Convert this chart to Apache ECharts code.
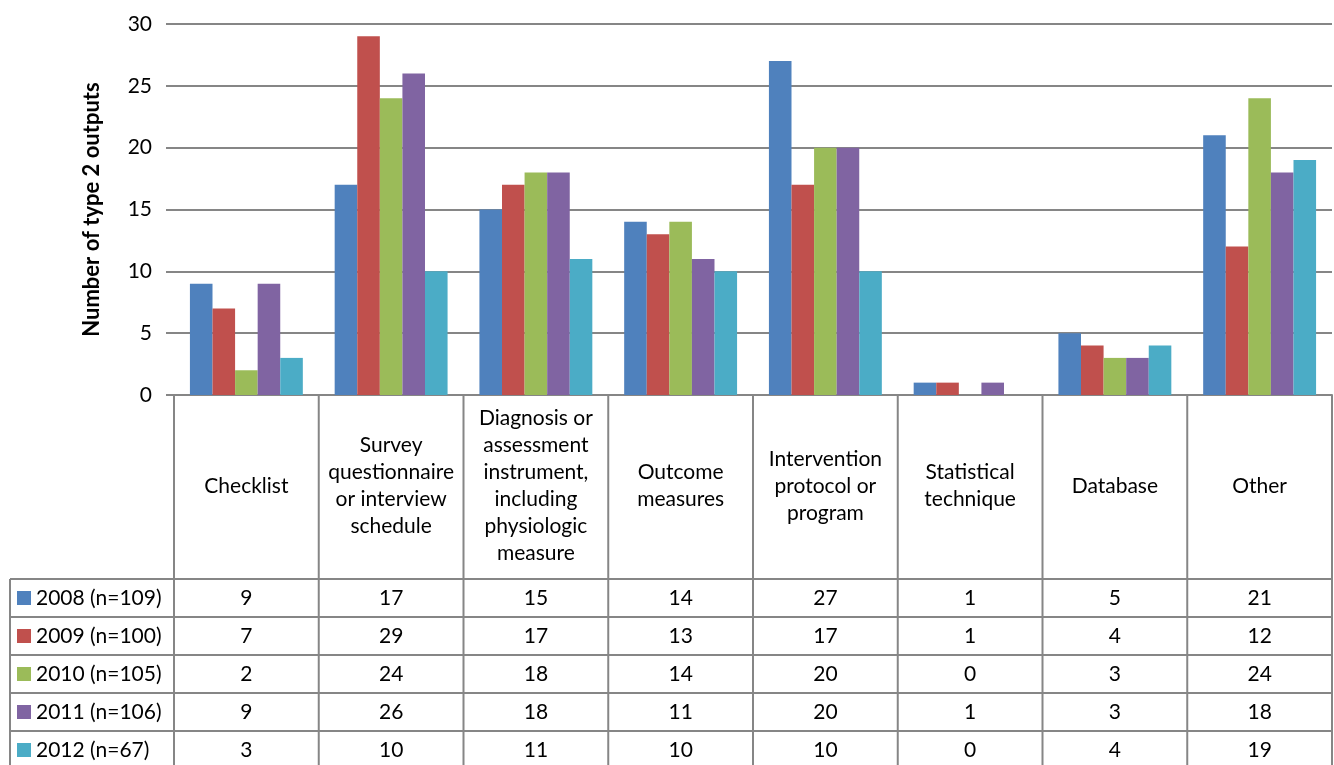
<!DOCTYPE html>
<html>
<head>
<meta charset="utf-8">
<script src="https://cdn.jsdelivr.net/npm/echarts@6/dist/echarts.min.js"></script>
<style>
html,body{margin:0;padding:0;background:#fff;}
#main{width:1334px;height:765px;}
</style>
</head>
<body>
<div id="main"></div>
<script>
const categories = [
  'Checklist',
  'Survey\nquestionnaire\nor interview\nschedule',
  'Diagnosis or\nassessment\ninstrument,\nincluding\nphysiologic\nmeasure',
  'Outcome\nmeasures',
  'Intervention\nprotocol or\nprogram',
  'Statistical\ntechnique',
  'Database',
  'Other'
];
const seriesNames = ['2008 (n=109)', '2009 (n=100)', '2010 (n=105)', '2011 (n=106)', '2012 (n=67)'];
const values2008 = [9, 17, 15, 14, 27, 1, 5, 21];
const values2009 = [7, 29, 17, 13, 17, 1, 4, 12];
const values2010 = [2, 24, 18, 14, 20, 0, 3, 24];
const values2011 = [9, 26, 18, 11, 20, 1, 3, 18];
const values2012 = [3, 10, 11, 10, 10, 0, 4, 19];
const yTicks = { min: 0, max: 30, interval: 5 };
const colors = ['#4F81BD', '#C0504D', '#9BBB59', '#8064A2', '#4BACC6'];

const allValues = [values2008, values2009, values2010, values2011, values2012];
const FONT = 'Lato, "Open Sans", sans-serif';
const LINE = '#868686';

const grid = { left: 174, right: 2, top: 24, height: 371 };
const tableLeft = 10;
const headerBottom = 579;
const rowH = 38;
const fontSize = 21;

const chart = echarts.init(document.getElementById('main'));
chart.setOption({
  animation: false,
  backgroundColor: '#fff',
  grid: grid,
  xAxis: {
    type: 'category',
    data: categories,
    axisLine: { show: true, lineStyle: { color: LINE, width: 2 } },
    axisTick: { show: false },
    axisLabel: { show: false },
    splitLine: { show: false }
  },
  yAxis: {
    type: 'value',
    min: yTicks.min, max: yTicks.max, interval: yTicks.interval,
    name: 'Number of type 2 outputs',
    nameLocation: 'middle',
    nameRotate: 90,
    nameGap: 71,
    nameTextStyle: { fontFamily: FONT, fontSize: 22, fontWeight: 'bold', color: '#000' },
    axisLine: { show: false },
    axisTick: { show: true, length: 8, lineStyle: { color: LINE, width: 2 } },
    axisLabel: { margin: 22, fontFamily: FONT, fontSize: fontSize, color: '#000' },
    splitLine: { show: true, lineStyle: { color: LINE, width: 2 } }
  },
  series: seriesNames.map((n, i) => ({
    name: n,
    type: 'bar',
    data: allValues[i],
    barGap: 0,
    barCategoryGap: '22%',
    itemStyle: { color: colors[i] }
  }))
});

function buildTable() {
  const zeroY = chart.convertToPixel({ yAxisIndex: 0 }, 0);
  const x0 = grid.left;
  const x1 = 1334 - grid.right;
  const colW = (x1 - x0) / categories.length;
  const bottom = 765 + 5;
  const els = [];
  const ls = { stroke: LINE, lineWidth: 2 };
  for (let c = 0; c <= categories.length; c++) {
    const x = x0 + c * colW;
    els.push({ type: 'line', shape: { x1: x, y1: zeroY, x2: x, y2: bottom }, style: ls, z: 10 });
  }
  els.push({ type: 'line', shape: { x1: tableLeft, y1: headerBottom, x2: tableLeft, y2: bottom }, style: ls, z: 10 });
  for (let r = 0; r < seriesNames.length; r++) {
    const y = headerBottom + r * rowH;
    els.push({ type: 'line', shape: { x1: tableLeft, y1: y, x2: x1, y2: y }, style: ls, z: 10 });
  }
  categories.forEach((cat, c) => {
    const cx = chart.convertToPixel({ xAxisIndex: 0 }, c);
    els.push({
      type: 'text', x: cx, y: (zeroY + headerBottom) / 2 - 1, z: 11,
      style: { text: cat, font: fontSize + 'px ' + FONT, fill: '#000', align: 'center', verticalAlign: 'middle', lineHeight: 27 }
    });
  });
  seriesNames.forEach((n, r) => {
    const cy = headerBottom + r * rowH + rowH / 2;
    els.push({ type: 'rect', shape: { x: 17, y: cy - 7, width: 14, height: 14 }, style: { fill: colors[r] }, z: 11 });
    els.push({ type: 'text', x: 36, y: cy, z: 11, style: { text: n, font: fontSize + 'px ' + FONT, fill: '#000', align: 'left', verticalAlign: 'middle' } });
    allValues[r].forEach((v, c) => {
      const cx = chart.convertToPixel({ xAxisIndex: 0 }, c);
      els.push({ type: 'text', x: cx, y: cy, z: 11, style: { text: String(v), font: fontSize + 'px ' + FONT, fill: '#000', align: 'center', verticalAlign: 'middle' } });
    });
  });
  chart.setOption({ graphic: els });
}
buildTable();
</script>
</body>
</html>
